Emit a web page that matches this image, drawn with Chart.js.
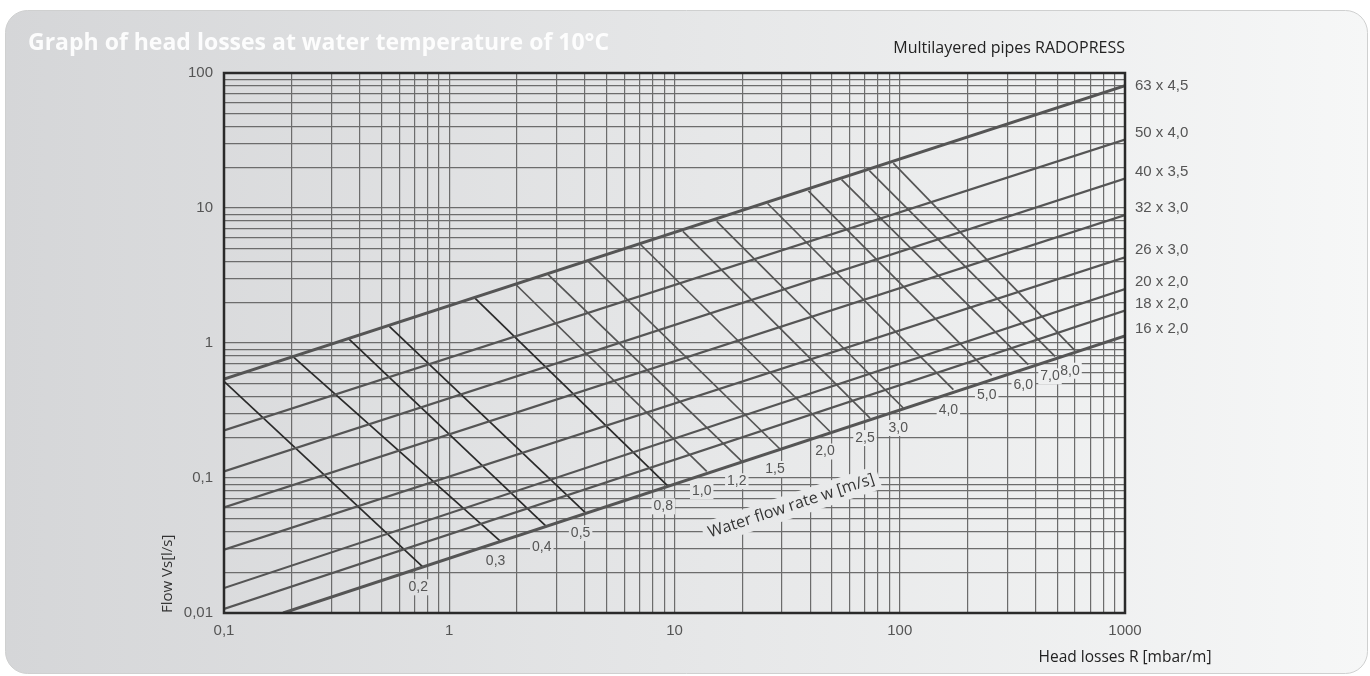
<!DOCTYPE html>
<html>
<head>
<meta charset="utf-8">
<script src="https://cdn.jsdelivr.net/npm/chart.js@4.4.1/dist/chart.umd.min.js"></script>
<style>
  html, body { margin: 0; padding: 0; background: #fff; }
  canvas { display: block; }
</style>
</head>
<body>
<canvas id="chart" width="1370" height="676"></canvas>
<script>
// axis decades and their labels
const xTickValues = [0.1, 1, 10, 100, 1000];
const xTickLabels = ['0,1', '1', '10', '100', '1000'];
const yTickValues = [0.01, 0.1, 1, 10, 100];
const yTickLabels = ['0,01', '0,1', '1', '10', '100'];

// pipe lines (flow vs head loss), start and end points
const pipeLabels = ['63 x 4,5', '50 x 4,0', '40 x 3,5', '32 x 3,0', '26 x 3,0', '20 x 2,0', '18 x 2,0', '16 x 2,0'];
const pipeStartR = [0.1, 0.1, 0.1, 0.1, 0.1, 0.1, 0.1, 0.183];
const pipeStartQ = [0.54, 0.225, 0.112, 0.0606, 0.0294, 0.0153, 0.0107, 0.01];
const pipeEndR = [1000, 1000, 1000, 1000, 1000, 1000, 1000, 1000];
const pipeEndQ = [80.5, 32.1, 16.5, 8.87, 4.31, 2.51, 1.74, 1.13];

// water flow rate lines, from the 63 x 4,5 pipe down to the 16 x 2,0 pipe
const velLabels = ['0,2', '0,3', '0,4', '0,5', '0,8', '1,0', '1,2', '1,5', '2,0', '2,5', '3,0', '4,0', '5,0', '6,0', '7,0', '8,0'];
const velTopR = [0.1, 0.203, 0.359, 0.542, 1.30, 1.98, 2.75, 4.14, 7.03, 10.9, 15.4, 25.9, 39.3, 55.2, 73.3, 93.6];
const velTopQ = [0.52, 0.79, 1.07, 1.33, 2.15, 2.70, 3.21, 4.02, 5.41, 6.71, 7.95, 10.8, 13.4, 16.2, 18.9, 21.5];
const velBottomR = [0.767, 1.69, 2.71, 4.03, 9.38, 13.9, 19.9, 29.4, 49.0, 73.8, 103.7, 173, 256, 372, 489, 600];
const velBottomQ = [0.0218, 0.0339, 0.0434, 0.0551, 0.0867, 0.112, 0.133, 0.164, 0.221, 0.278, 0.330, 0.451, 0.575, 0.691, 0.796, 0.877];

const gridFont = '"Liberation Sans", Arial, sans-serif';
const textFont = '"Open Sans", "Noto Sans", sans-serif';

function logGrid(decades) {
  const out = [];
  decades.forEach((d, i) => {
    if (i === decades.length - 1) { out.push(d); return; }
    for (let m = 1; m < 10; m++) out.push(Number((m * d).toPrecision(4)));
  });
  return out;
}

function panelGradient(ctx) {
  const g = ctx.createLinearGradient(5, 0, 1368, 0);
  g.addColorStop(0, '#d5d6d8');
  g.addColorStop(1, '#f6f7f7');
  return g;
}

// where the rotated caption sits and how it is tilted (along the 16 x 2,0 line)
function captionPlace(chart) {
  const { x, y } = chart.scales;
  const n = pipeLabels.length - 1;
  return {
    px: x.getPixelForValue(33),
    py: y.getPixelForValue(0.062),
    angle: Math.atan2(
      y.getPixelForValue(pipeEndQ[n]) - y.getPixelForValue(pipeStartQ[n]),
      x.getPixelForValue(pipeEndR[n]) - x.getPixelForValue(pipeStartR[n])
    )
  };
}

const datasets = [];
pipeLabels.forEach((label, i) => {
  datasets.push({
    label,
    data: [{ x: pipeStartR[i], y: pipeStartQ[i] }, { x: pipeEndR[i], y: pipeEndQ[i] }],
    borderColor: '#555',
    borderWidth: (i === 0 || i === pipeLabels.length - 1) ? 3 : 2.2
  });
});
velLabels.forEach((label, i) => {
  datasets.push({
    label: 'w ' + label,
    data: [{ x: velTopR[i], y: velTopQ[i] }, { x: velBottomR[i], y: velBottomQ[i] }],
    borderColor: i < 5 ? '#2a2a2a' : '#555',
    borderWidth: 1.7
  });
});

const decor = {
  id: 'decor',
  beforeDraw(chart) {
    const { ctx, width, height } = chart;
    ctx.save();
    ctx.fillStyle = '#fff';
    ctx.fillRect(0, 0, width, height);
    ctx.beginPath();
    ctx.roundRect(5.5, 10.5, 1362, 663, 22);
    ctx.fillStyle = panelGradient(ctx);
    ctx.fill();
    ctx.strokeStyle = '#cfd0d0';
    ctx.lineWidth = 1;
    ctx.stroke();

    ctx.fillStyle = 'rgba(255,255,255,0.92)';
    ctx.font = 'bold 23px ' + textFont;
    ctx.textBaseline = 'alphabetic';
    ctx.textAlign = 'left';
    ctx.fillText('Graph of head losses at water temperature of 10°C', 28, 50);
    ctx.restore();
  },
  beforeDatasetsDraw(chart) {
    // patches of background behind the flow rate labels, hiding the grid
    const { ctx, scales: { x, y } } = chart;
    ctx.save();
    ctx.fillStyle = panelGradient(ctx);
    ctx.font = '14px ' + gridFont;
    velLabels.forEach((label, i) => {
      const px = x.getPixelForValue(velBottomR[i]) - 5;
      const py = y.getPixelForValue(velBottomQ[i]) + 20;
      const w = ctx.measureText(label).width;
      ctx.fillRect(px - w / 2 - 2, py - 8, w + 4, 16);
    });
    const c = captionPlace(chart);
    ctx.font = '16px ' + textFont;
    const tw = ctx.measureText('Water flow rate w [m/s]').width;
    ctx.translate(c.px, c.py);
    ctx.rotate(c.angle);
    ctx.beginPath();
    ctx.rect(-tw / 2 - 5, -12, tw + 10, 24);
    ctx.setTransform(1, 0, 0, 1, 0, 0);
    ctx.fill();
    ctx.restore();
  },
  afterDatasetsDraw(chart) {
    const { ctx, chartArea: a, scales: { x, y } } = chart;
    ctx.save();
    // frame
    ctx.strokeStyle = '#2a2a2a';
    ctx.lineWidth = 2.5;
    ctx.strokeRect(a.left, a.top, a.right - a.left, a.bottom - a.top);

    // flow rate labels
    ctx.fillStyle = '#555';
    ctx.font = '14px ' + gridFont;
    ctx.textAlign = 'center';
    ctx.textBaseline = 'middle';
    velLabels.forEach((label, i) => {
      const px = x.getPixelForValue(velBottomR[i]) - 5;
      const py = y.getPixelForValue(velBottomQ[i]) + 20;
      ctx.fillText(label, px, py);
    });

    // pipe labels on the right
    ctx.font = '15px ' + gridFont;
    ctx.textAlign = 'left';
    pipeLabels.forEach((label, i) => {
      const py = Math.max(y.getPixelForValue(pipeEndQ[i]) - 7, a.top + 13);
      ctx.fillText(label, a.right + 10, py);
    });

    // rotated flow rate caption
    const c = captionPlace(chart);
    ctx.save();
    ctx.translate(c.px, c.py);
    ctx.rotate(c.angle);
    ctx.fillStyle = '#333';
    ctx.font = '16px ' + textFont;
    ctx.textAlign = 'center';
    ctx.fillText('Water flow rate w [m/s]', 0, 0);
    ctx.restore();

    // axis titles and subtitle
    ctx.fillStyle = '#222';
    ctx.font = '16px ' + textFont;
    ctx.textAlign = 'right';
    ctx.textBaseline = 'alphabetic';
    ctx.fillText('Multilayered pipes RADOPRESS', a.right, 53);
    ctx.font = '15.5px ' + textFont;
    ctx.textAlign = 'center';
    ctx.textBaseline = 'middle';
    ctx.fillText('Head losses R [mbar/m]', a.right, 658);
    ctx.save();
    ctx.translate(168, a.bottom);
    ctx.rotate(-Math.PI / 2);
    ctx.textAlign = 'left';
    ctx.fillStyle = '#333';
    ctx.font = '15px ' + textFont;
    ctx.fillText('Flow Vs[l/s]', 0, 0);
    ctx.restore();
    ctx.restore();
  }
};

new Chart(document.getElementById('chart'), {
  type: 'line',
  data: { datasets },
  options: {
    responsive: false,
    animation: false,
    parsing: false,
    events: [],
    layout: { padding: { left: 0, right: 245, top: 73, bottom: 33 } },
    elements: { point: { radius: 0 }, line: { tension: 0 } },
    plugins: { legend: { display: false }, tooltip: { enabled: false } },
    scales: {
      x: {
        type: 'logarithmic',
        min: 0.1,
        max: 1000,
        afterBuildTicks(scale) { scale.ticks = logGrid(xTickValues).map(v => ({ value: v })); },
        afterFit(scale) { scale.height = 30; },
        grid: { color: '#6c6c6c', lineWidth: 1.2, drawTicks: false },
        border: { display: false },
        ticks: {
          autoSkip: false,
          maxRotation: 0,
          padding: 9,
          color: '#555',
          font: { family: gridFont, size: 15 },
          callback(value) {
            const i = xTickValues.indexOf(value);
            return i >= 0 ? xTickLabels[i] : '';
          }
        }
      },
      y: {
        type: 'logarithmic',
        min: 0.01,
        max: 100,
        afterBuildTicks(scale) { scale.ticks = logGrid(yTickValues).map(v => ({ value: v })); },
        afterFit(scale) { scale.width = 224; },
        grid: { color: '#6c6c6c', lineWidth: 1.2, drawTicks: false },
        border: { display: false },
        ticks: {
          autoSkip: false,
          padding: 11,
          color: '#555',
          font: { family: gridFont, size: 15 },
          callback(value) {
            const i = yTickValues.indexOf(value);
            return i >= 0 ? yTickLabels[i] : '';
          }
        }
      }
    }
  },
  plugins: [decor]
});
</script>
</body>
</html>
